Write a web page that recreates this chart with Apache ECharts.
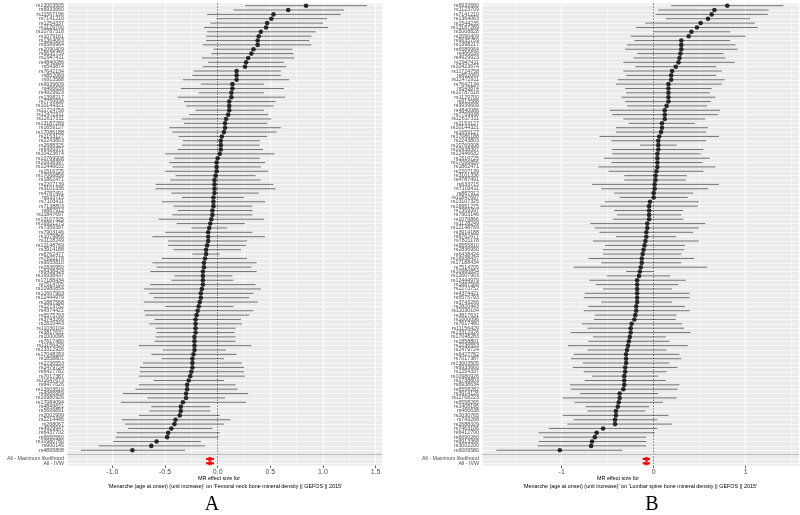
<!DOCTYPE html>
<html><head><meta charset="utf-8">
<script src="https://cdn.jsdelivr.net/npm/echarts@6/dist/echarts.min.js"></script>
<style>html,body{margin:0;padding:0;background:#fff}#c{width:800px;height:515px}</style>
</head><body><div id="c"></div>
<script>
// ---------- Panel A: Femoral neck BMD ----------
const snpA = [
"rs13003505","rs6933660","rs11567196","rs7141210","rs1254337","rs1129700","rs10787518","rs1079161","rs1364063","rs6589964",
"rs2090409","rs9635759","rs2947411","rs4840086","rs543874","rs7642134","rs852069","rs913588","rs9939609","rs466639",
"rs4929923","rs1398217","rs7759938","rs10144321","rs11724758","rs12472911","rs12617311","rs13187289","rs1659127","rs17086188",
"rs2153127","rs2243803","rs2688325","rs6439371","rs10423674","rs10769908","rs10938397","rs12446632","rs1516725","rs17066856",
"rs1862471","rs2207139","rs3101336","rs4787491","rs633715","rs7103411","rs7138803","rs887912","rs11847697","rs13107325",
"rs16951275","rs7359397","rs7903146","rs1079866","rs1128249","rs12148769","rs3914188","rs6762477","rs7821178","rs9555810",
"rs2836950","rs6438424","rs16938437","rs17188434","rs7514705","rs10980854","rs12607903","rs12444979","rs1887568","rs2273752",
"rs4374421","rs6575793","rs3743266","rs2820443","rs11030104","rs3817631","rs1000096","rs7617480","rs11156429","rs13312926",
"rs17048283","rs1858801","rs2236553","rs2479724","rs6427782","rs7017387",
"rs11647673","rs6477626","rs12603519","rs4965959","rs10980926","rs17084094","rs4849621","rs5699891","rs2002999","rs2214445",
"rs268067","rs4929947","rs6437702","rs6650560","rs10980780","rs900145","rs4895808"];
const bA = [0.84,0.67,0.53,0.51,0.47,0.46,0.41,0.39,0.38,0.38,
0.34,0.32,0.29,0.27,0.26,0.18,0.18,0.18,0.14,0.14,
0.13,0.13,0.11,0.11,0.11,0.10,0.08,0.07,0.07,0.06,
0.04,0.03,0.03,0.03,0.02,0.00,-0.01,-0.01,-0.01,-0.02,
-0.03,-0.03,-0.03,-0.03,-0.04,-0.04,-0.04,-0.05,-0.05,-0.06,
-0.07,-0.08,-0.09,-0.09,-0.09,-0.10,-0.11,-0.11,-0.12,-0.13,
-0.13,-0.14,-0.14,-0.14,-0.14,-0.15,-0.16,-0.16,-0.17,-0.18,
-0.19,-0.20,-0.21,-0.21,-0.21,-0.21,-0.22,-0.22,-0.22,-0.22,
-0.23,-0.24,-0.24,-0.24,-0.25,-0.26,-0.275,-0.29,-0.29,-0.30,
-0.30,-0.33,-0.35,-0.35,-0.36,-0.40,-0.41,-0.44,-0.47,-0.48,
-0.58,-0.63,-0.81];
const loA = [0.26,0.15,-0.10,-0.01,-0.07,-0.13,-0.10,-0.11,-0.11,-0.14,
-0.04,-0.06,-0.15,-0.09,-0.14,-0.23,-0.24,-0.33,-0.16,-0.35,
-0.18,-0.38,-0.32,-0.30,-0.21,-0.27,-0.34,-0.32,-0.46,-0.43,
-0.37,-0.33,-0.34,-0.38,-0.50,-0.41,-0.46,-0.43,-0.50,-0.40,
-0.45,-0.59,-0.59,-0.44,-0.34,-0.53,-0.42,-0.38,-0.43,-0.56,
-0.39,-0.25,-0.50,-0.62,-0.47,-0.47,-0.42,-0.24,-0.53,-0.62,
-0.58,-0.64,-0.41,-0.44,-0.64,-0.70,-0.65,-0.61,-0.70,-0.50,
-0.70,-0.69,-0.60,-0.65,-0.59,-0.58,-0.59,-0.60,-0.75,-0.52,
-0.63,-0.53,-0.71,-0.74,-0.74,-0.75,-0.61,-0.75,-0.78,-0.90,
-0.67,-0.92,-0.63,-0.65,-0.75,-0.91,-0.88,-0.85,-0.96,-0.97,
-0.99,-1.13,-1.30];
const hiA = [1.42,1.20,1.17,1.04,1.00,1.05,0.93,0.89,0.87,0.89,
0.71,0.72,0.73,0.63,0.65,0.60,0.60,0.68,0.44,0.63,
0.44,0.64,0.55,0.53,0.44,0.48,0.51,0.47,0.60,0.56,
0.47,0.40,0.40,0.43,0.54,0.40,0.45,0.41,0.48,0.36,
0.41,0.53,0.55,0.39,0.25,0.45,0.33,0.33,0.33,0.44,
0.26,0.09,0.33,0.45,0.28,0.27,0.22,0.02,0.28,0.37,
0.32,0.37,0.14,0.15,0.36,0.41,0.34,0.30,0.38,0.15,
0.34,0.30,0.22,0.23,0.17,0.16,0.17,0.17,0.32,0.08,
0.18,0.06,0.23,0.25,0.25,0.26,0.06,0.17,0.19,0.29,
0.07,0.27,-0.07,-0.07,0.02,0.12,0.06,-0.05,0.02,0.01,
-0.16,-0.12,-0.31];
const allLabels = ["All - Maximum likelihood","All - IVW"];
const allA_b  = [-0.073,-0.073];
const allA_lo = [-0.110,-0.110];
const allA_hi = [-0.035,-0.035];

// ---------- Panel B: Lumbar spine BMD ----------
const snpB = [
"rs6932660","rs1123709","rs7141210","rs1364063","rs1544235","rs13187289","rs5008828","rs2090409","rs9635759","rs1398217",
"rs6589964","rs466639","rs4929923","rs2947411","rs10423674","rs11724758","rs852069","rs12472911","rs7642134","rs543874",
"rs10787518","rs1129700","rs913588","rs9939609","rs4840086","rs7759938","rs12617311","rs2153127","rs10144321","rs1659127",
"rs17086188","rs2243803","rs10769908","rs10938397","rs12446632","rs1516725","rs17066856","rs1862471","rs2207139","rs3101336",
"rs4787491","rs633715","rs7103411","rs887912","rs11847697","rs13107325","rs16951275","rs7359397","rs7903146","rs1079866",
"rs1128249","rs12148769","rs3914188","rs6762477","rs7821178","rs9555810","rs2836950","rs6438424","rs16938437","rs17188434",
"rs7514705","rs10980854","rs12607903","rs12444979","rs1887568","rs2273752","rs4374421","rs6575793","rs3743266","rs2820443",
"rs11030104","rs3817631","rs1000096","rs7617480","rs11156429","rs13312926","rs17048283","rs1858801","rs2236553","rs2479724",
"rs6427782","rs7017387","rs13003505","rs6933660","rs1254337","rs10980926",
"rs1738803","rs6938634","rs6558282","rs3914126","rs11768223","rs6558265","rs1408195","rs466638","rs2030765","rs743268",
"rs2688329","rs7463106","rs6412700","rs6690260","rs6913368","rs3002200","rs6009580"];
const bB = [0.80,0.66,0.63,0.59,0.51,0.47,0.41,0.38,0.30,0.30,
0.30,0.29,0.28,0.27,0.24,0.20,0.19,0.19,0.16,0.16,
0.16,0.16,0.16,0.14,0.12,0.12,0.12,0.09,0.09,0.08,
0.06,0.05,0.05,0.05,0.04,0.04,0.04,0.04,0.03,0.02,
0.02,0.01,0.01,0.00,0.00,-0.04,-0.05,-0.05,-0.05,-0.05,
-0.07,-0.07,-0.08,-0.08,-0.09,-0.10,-0.11,-0.12,-0.13,-0.13,
-0.14,-0.15,-0.16,-0.18,-0.18,-0.18,-0.18,-0.18,-0.18,-0.19,
-0.19,-0.20,-0.21,-0.24,-0.25,-0.25,-0.26,-0.27,-0.28,-0.29,
-0.30,-0.30,-0.30,-0.31,-0.31,-0.32,-0.32,-0.32,-0.33,-0.37,
-0.37,-0.38,-0.39,-0.41,-0.41,-0.42,-0.42,-0.55,-0.62,-0.64,
-0.67,-0.68,-1.02];
const loB = [0.19,0.05,0.02,0.13,-0.09,-0.19,0.00,-0.25,-0.21,-0.29,
-0.31,-0.18,-0.22,-0.33,-0.20,-0.33,-0.30,-0.39,-0.41,-0.31,
-0.30,-0.35,-0.31,-0.29,-0.48,-0.45,-0.33,-0.27,-0.41,-0.41,
-0.59,-0.46,-0.15,-0.45,-0.45,-0.54,-0.46,-0.60,-0.49,-0.32,
-0.32,-0.67,-0.57,-0.43,-0.37,-0.53,-0.58,-0.43,-0.40,-0.44,
-0.69,-0.64,-0.59,-0.41,-0.66,-0.53,-0.55,-0.55,-0.71,-0.57,
-0.87,-0.30,-0.51,-0.70,-0.63,-0.55,-0.75,-0.76,-0.57,-0.71,
-0.76,-0.64,-0.65,-0.78,-0.72,-0.90,-0.66,-0.71,-0.93,-0.72,
-0.87,-0.90,-0.77,-0.88,-0.76,-0.67,-0.75,-0.91,-0.90,-0.80,
-0.99,-0.86,-0.74,-0.72,-0.99,-0.87,-0.94,-1.14,-1.25,-1.20,
-1.25,-1.26,-1.71];
const hiB = [1.41,1.25,1.24,1.05,1.10,1.13,0.83,1.00,0.83,0.89,
0.91,0.76,0.78,0.88,0.68,0.74,0.68,0.77,0.74,0.63,
0.61,0.67,0.62,0.58,0.72,0.70,0.56,0.45,0.59,0.57,
0.71,0.57,0.25,0.54,0.51,0.61,0.53,0.67,0.54,0.36,
0.35,0.71,0.59,0.43,0.37,0.49,0.48,0.32,0.30,0.32,
0.56,0.49,0.43,0.24,0.49,0.34,0.33,0.30,0.44,0.30,
0.58,0.00,0.18,0.35,0.27,0.20,0.39,0.39,0.20,0.34,
0.39,0.25,0.24,0.31,0.33,0.40,0.13,0.17,0.37,0.14,
0.28,0.30,0.17,0.26,0.14,0.05,0.13,0.28,0.26,0.05,
0.25,0.10,-0.05,-0.09,0.16,0.04,0.20,0.04,0.01,-0.08,
-0.08,-0.08,-0.34];
const allB_b  = [-0.078,-0.078];
const allB_lo = [-0.120,-0.120];
const allB_hi = [-0.040,-0.040];

const titleLine1 = "MR effect size for";
const titleA = "'Menarche (age at onset) (unit increase)' on 'Femoral neck bone mineral density || GEFOS || 2015'";
const titleB = "'Menarche (age at onset) (unit increase)' on 'Lumbar spine bone mineral density || GEFOS || 2015'";

// ---------- build ----------
const FONT = "Liberation Sans";
function cats(snps){ return snps.concat([""], allLabels); }
function errRender(color, width){
  return function(params, api){
    const p1 = api.coord([api.value(0), api.value(2)]);
    const p2 = api.coord([api.value(1), api.value(2)]);
    return {type:'line', shape:{x1:p1[0],y1:p1[1],x2:p2[0],y2:p2[1]}, style:{stroke:color, lineWidth:width}};
  };
}
function panelSeries(gi, snps, b, lo, hi, ab, alo, ahi){
  const n = snps.length;
  return [
    {type:'line', xAxisIndex:gi, yAxisIndex:gi, data:[], z:1, silent:true,
     markLine:{silent:true, symbol:['none','none'], label:{show:false}, animation:false,
       data:[
         {xAxis:0, lineStyle:{type:[1.2,1.8], color:'#000', width:0.7}},
         {yAxis:n, lineStyle:{type:'solid', color:'#bebebe', width:1.1}}
       ]}},
    {type:'custom', xAxisIndex:gi, yAxisIndex:gi, z:2, silent:true,
     renderItem: errRender('#1a1a1a', 0.6), encode:{x:[0,1], y:2},
     data: snps.map((s,i)=>[lo[i], hi[i], i])},
    {type:'scatter', xAxisIndex:gi, yAxisIndex:gi, z:3, silent:true, symbolSize:4.6,
     itemStyle:{color:'#000'}, data: b.map((v,i)=>[v,i])},
    {type:'custom', xAxisIndex:gi, yAxisIndex:gi, z:4, silent:true,
     renderItem: errRender('#ff0000', 2), encode:{x:[0,1], y:2},
     data: ab.map((v,i)=>[alo[i], ahi[i], n+1+i])},
    {type:'scatter', xAxisIndex:gi, yAxisIndex:gi, z:5, silent:true, symbolSize:4.6,
     itemStyle:{color:'#ff0000'}, data: ab.map((v,i)=>[v, n+1+i])}
  ];
}
function yAx(gi, snps){
  return {type:'category', gridIndex:gi, data:cats(snps), inverse:true,
    axisLine:{show:false}, axisTick:{show:false},
    axisLabel:{interval:0, fontSize:5.3, color:'#4d4d4d', margin:3, fontFamily:FONT},
    splitLine:{show:true, interval:0, alignWithLabel:true, lineStyle:{color:'#ffffff', width:0.7}}};
}
function xAx(gi, mn, mx, split, fmt){
  return {type:'value', gridIndex:gi, min:mn, max:mx, splitNumber:split,
    axisLine:{show:false},
    axisTick:{show:true, length:2.5, lineStyle:{color:'#333', width:0.8}},
    axisLabel:{fontSize:7, color:'#4d4d4d', margin:3.5, fontFamily:FONT, showMinLabel:false, showMaxLabel:false, formatter:fmt},
    splitLine:{show:true, lineStyle:{color:'#ffffff', width:1.1}},
    minorTick:{show:false, splitNumber:2},
    minorSplitLine:{show:true, lineStyle:{color:'#ffffff', width:0.5}}};
}
const chart = echarts.init(document.getElementById('c'), null, {renderer:'canvas'});
chart.setOption({
  animation:false,
  backgroundColor:'#ffffff',
  grid:[
    {left:67, top:3.5, width:315, height:462, show:true, backgroundColor:'#ebebeb', borderWidth:0, containLabel:false},
    {left:482, top:3.5, width:317, height:462, show:true, backgroundColor:'#ebebeb', borderWidth:0, containLabel:false}
  ],
  xAxis:[
    xAx(0, -1.431, 1.561, 6, v=>v.toFixed(1)),
    xAx(1, -1.866, 1.579, 3, v=>String(Math.round(v)))
  ],
  yAxis:[ yAx(0, snpA), yAx(1, snpB) ],
  series: panelSeries(0, snpA, bA, loA, hiA, allA_b, allA_lo, allA_hi)
    .concat(panelSeries(1, snpB, bB, loB, hiB, allB_b, allB_lo, allB_hi)),
  graphic:[
    {type:'text', x:219, y:479, style:{text:titleLine1, font:'5.4px "Liberation Sans"', fill:'#000', textAlign:'center', textVerticalAlign:'middle'}},
    {type:'text', x:225, y:486.5, style:{text:titleA, font:'5.4px "Liberation Sans"', fill:'#000', textAlign:'center', textVerticalAlign:'middle'}},
    {type:'text', x:618, y:479, style:{text:titleLine1, font:'5.4px "Liberation Sans"', fill:'#000', textAlign:'center', textVerticalAlign:'middle'}},
    {type:'text', x:640, y:486.5, style:{text:titleB, font:'5.4px "Liberation Sans"', fill:'#000', textAlign:'center', textVerticalAlign:'middle'}},
    {type:'text', x:212, y:505, style:{text:'A', font:'20px "Liberation Serif"', fill:'#000', textAlign:'center', textVerticalAlign:'middle'}},
    {type:'text', x:652, y:505, style:{text:'B', font:'20px "Liberation Serif"', fill:'#000', textAlign:'center', textVerticalAlign:'middle'}}
  ]
});
</script></body></html>
